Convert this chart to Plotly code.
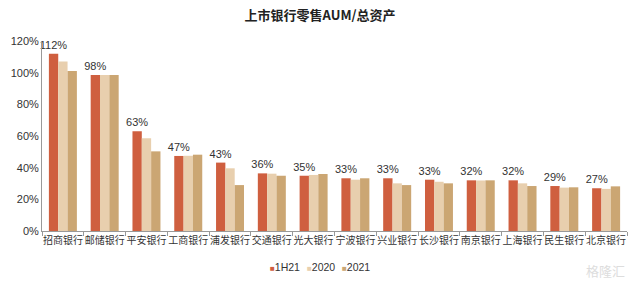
import plotly.graph_objects as go

banks = ["招商银行", "邮储银行", "平安银行", "工商银行", "浦发银行", "交通银行", "光大银行",
         "宁波银行", "兴业银行", "长沙银行", "南京银行", "上海银行", "民生银行", "北京银行"]
v_1h21 = [112, 98.5, 63, 47.4, 43.2, 36.4, 34.9, 33.3, 33.3, 32.4, 32, 32, 28.4, 27]
v_2020 = [107, 98.5, 58.6, 47.5, 39.6, 36.2, 35.4, 32.4, 30.1, 31.1, 31.9, 30.1, 27.4, 26.6]
v_2021 = [101, 98.5, 50.3, 48.2, 29, 34.9, 36, 33.3, 29, 30.1, 32, 28.4, 27.6, 28.2]
labels = ["112%", "98%", "63%", "47%", "43%", "36%", "35%", "33%", "33%", "33%", "32%", "32%", "29%", "27%"]
series_names = ["1H21", "2020", "2021"]
colors = ["#CF5F3F", "#E8CFAE", "#CBA673"]
yticks = [0, 20, 40, 60, 80, 100, 120]

FONT = "Liberation Sans, Arial, Noto Sans CJK SC, sans-serif"
L, R, T, B = 42, 13, 41, 54
PW, PH = 640 - L - R, 285 - T - B


def px(xp):
    return (xp - L) / PW


def py(yp):
    return (285 - B - yp) / PH


fig = go.Figure()
for name, vals, col in zip(series_names, [v_1h21, v_2020, v_2021], colors):
    fig.add_trace(go.Bar(
        x=banks, y=vals, name=name, marker_color=col, marker_line_width=0,
        text=labels if name == "1H21" else None,
        textposition="outside" if name == "1H21" else "none",
        textangle=0, constraintext="none",
        textfont=dict(size=11, color="#333333", family=FONT),
        cliponaxis=False, showlegend=False,
    ))

fig.update_layout(
    width=640, height=285,
    margin=dict(l=L, r=R, t=T, b=B),
    paper_bgcolor="white", plot_bgcolor="white",
    barmode="group", bargap=0.33, bargroupgap=0,
    font=dict(family=FONT, size=11, color="#333333"),
    title=dict(text="<b>上市银行零售AUM/总资产</b>", x=0.5, xanchor="center",
               y=0.945, yanchor="middle",
               font=dict(size=13, color="#222222", family="Noto Sans CJK SC, sans-serif")),
    showlegend=False,
    xaxis=dict(showline=True, linecolor="#999999", linewidth=1, ticks="outside",
               tickson="boundaries", ticklen=4, tickcolor="#999999", tickangle=0,
               tickfont=dict(size=10, color="#333333",
                             family="Noto Sans CJK SC, sans-serif"),
               showgrid=False),
    yaxis=dict(range=[0, 120], tickvals=yticks, ticktext=[f"{t}%" for t in yticks],
               showline=True, linecolor="#999999", linewidth=1, showgrid=False,
               zeroline=False, ticks="", tickfont=dict(size=11, color="#333333")),
)

# legend drawn as annotations: small coloured square + label in one text
item_x = [269, 306, 341]
for name, col, ix in zip(series_names, colors, item_x):
    fig.add_annotation(
        text=f"<span style='color:{col};font-size:8px'>■</span>{name}",
        xref="paper", yref="paper", x=px(ix), y=py(267),
        xanchor="left", yanchor="middle", showarrow=False, borderpad=0,
        font=dict(size=10.5, color="#333333", family=FONT))

fig.add_annotation(text="格隆汇", xref="paper", yref="paper", x=1.0, y=py(270),
                   xanchor="right", yanchor="middle", showarrow=False,
                   font=dict(size=13, color="#DDDDDD", family="Noto Sans CJK SC, sans-serif"))

fig.write_html("out.html")
